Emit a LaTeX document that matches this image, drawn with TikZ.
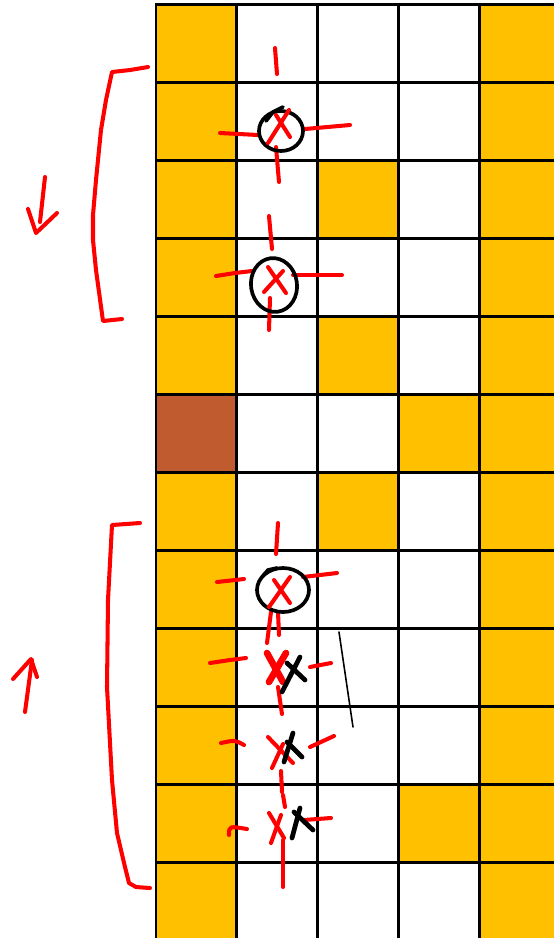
\documentclass[tikz,border=0pt]{standalone}
\definecolor{cellorange}{HTML}{FFC000}
\definecolor{cellbrown}{HTML}{C05B2F}
\definecolor{penred}{HTML}{FF0000}
\begin{document}
\begin{tikzpicture}[x=0.02cm,y=-0.02cm, line cap=round, line join=round,
  gridline/.style={line width=1.7pt, black, line cap=butt},
  redpen/.style={penred, line width=2.3pt},
  boldred/.style={penred, line width=3.8pt},
  blackpen/.style={black, line width=2.1pt},
  blackx/.style={black, line width=2.7pt},
  thinpen/.style={black, line width=0.9pt}]
\useasboundingbox (0,0) rectangle (554,938);
\clip (0,0) rectangle (554,938);
\fill[white] (0,0) rectangle (554,938);
% cells
\foreach \r in {0,1,2,3,4,6,7,8,9,10,11} \fill[cellorange] (156,{4.5+78*\r}) rectangle ++(80.9,78);
\foreach \r in {0,...,11} \fill[cellorange] ({156+80.9*4},{4.5+78*\r}) rectangle ++(90,78);
\foreach \c/\r in {2/2,2/4,2/6,3/5,3/10} \fill[cellorange] ({156+80.9*\c},{4.5+78*\r}) rectangle ++(80.9,78);
\fill[cellbrown] (156,{4.5+78*5}) rectangle ++(80.9,78);
% grid
\foreach \c in {0,...,4} \draw[gridline] ({156+80.9*\c},3.6) -- ({156+80.9*\c},945);
\foreach \r in {0,...,11} \draw[gridline] (155.2,{4.5+78*\r}) -- (560,{4.5+78*\r});
% top bracket and arrow
\draw[redpen] (148,67) -- (130,70) -- (112,72) -- (106,100) -- (101,130) -- (96,180) -- (93,215) -- (93,240) -- (96,270) -- (103,321) -- (122,319);
\draw[redpen] (45,177) -- (40,222);
\draw[redpen] (28,209) -- (36,233) -- (57,213);
% circle 1
\draw[redpen] (275,48) -- (277,74);
\draw[redpen] (220,133) -- (258,135);
\draw[redpen] (305,129) -- (350,125);
\draw[redpen] (276,147) -- (279,182);
\draw[blackpen] (281,131) ellipse [x radius=22, y radius=20];
\draw[blackpen] (266,121) -- (273,112) -- (283,107);
\draw[redpen] (276,115) -- (290,137);
\draw[redpen] (289,110) -- (268,143);
% circle 2
\draw[redpen] (269,216) -- (272,249);
\draw[redpen] (216,276) -- (235,273) -- (252,271);
\draw[redpen] (293,275) -- (342,275);
\draw[redpen] (270,298) -- (269,330);
\draw[blackpen, rotate around={8:(274,285)}] (274,285) ellipse [x radius=23, y radius=27];
\draw[redpen] (268,267) -- (286,293);
\draw[redpen] (283,271) -- (264,292);
% bottom bracket and arrow
\draw[redpen] (140,523) -- (112,525) -- (108,600) -- (107,687) -- (112,780) -- (117,833) -- (125,867) -- (129,883) -- (136,887) -- (150,888);
\draw[redpen] (25,712) -- (32,660);
\draw[redpen] (13,679) -- (31,659) -- (37,677);
% circle 3
\draw[redpen] (278,523) -- (276,554);
\draw[redpen] (217,582) -- (244,579);
\draw[redpen] (303,577) -- (337,573);
\draw[redpen] (271,612) -- (267,643);
\draw[redpen] (278,612) -- (279,635);
\draw[blackpen] (283,590) ellipse [x radius=26, y radius=22];
\draw[blackpen] (262,577) -- (268,570) -- (277,568);
\draw[redpen] (274,580) -- (290,603);
\draw[redpen] (290,577) -- (269,607);
% row 8
\draw[redpen] (210,663) -- (230,660) -- (246,658);
\draw[redpen] (310,667) -- (331,663);
\draw[redpen] (278,687) -- (282,714);
\draw[boldred] (267,653) -- (283,682);
\draw[boldred] (286,653) -- (269,682);
\draw[blackx] (287,663) -- (305,680);
\draw[blackx] (300,657) -- (282,692);
\draw[thinpen] (339,632) -- (353,727);
% row 9
\draw[redpen] (221,743) .. controls (235,740) .. (244,745);
\draw[redpen] (310,747) -- (334,736);
\draw[redpen] (281,771) -- (282,792);
\draw[redpen] (283,795) -- (285,807);
\draw[redpen] (268,737) -- (293,763);
\draw[redpen] (283,744) -- (272,768);
\draw[blackx] (293,733) -- (284,762);
\draw[blackx] (287,742) -- (302,757);
% row 10
\draw[redpen] (229,835) .. controls (229,826) .. (247,829);
\draw[redpen] (304,820) -- (331,818);
\draw[redpen] (283,840) -- (283,887);
\draw[redpen] (269,813) -- (284,838);
\draw[redpen] (281,815) -- (271,843);
\draw[blackx] (300,808) -- (292,838);
\draw[blackx] (294,812) -- (313,830);
\end{tikzpicture}
\end{document}
